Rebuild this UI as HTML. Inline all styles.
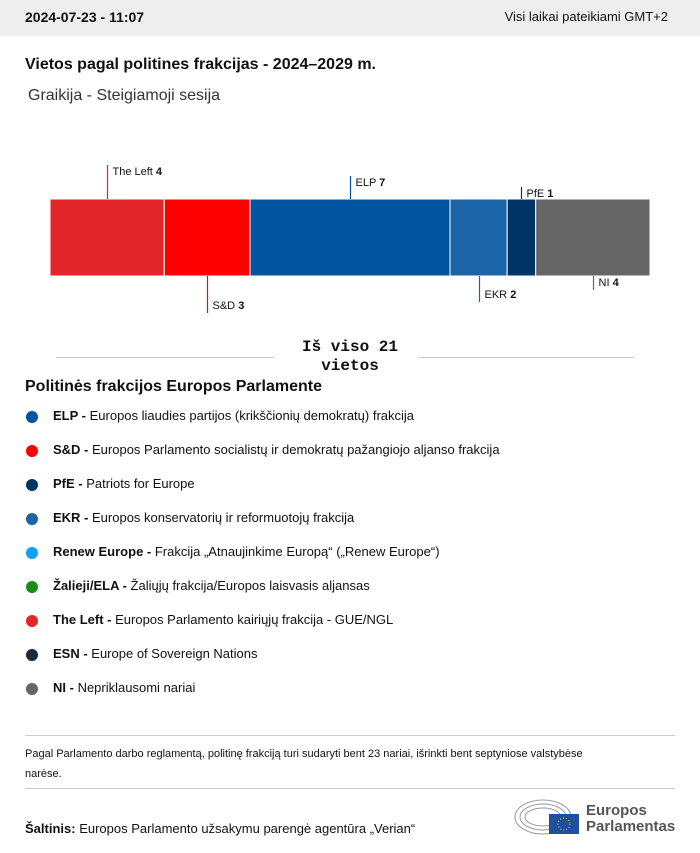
<!DOCTYPE html>
<html><head><meta charset="utf-8">
<style>
body{margin:0;width:700px;height:853px;background:#fff;font-family:"Liberation Sans",sans-serif;color:#111;position:relative;overflow:hidden}
.top{position:absolute;left:0;top:0;width:700px;height:36px;background:#eeeeee;font-size:14px}
.abs{position:absolute;white-space:nowrap}
.leg{position:absolute;left:26px;font-size:13px;white-space:nowrap}
.leg i{position:absolute;left:0;top:3px;width:12px;height:12px;border-radius:50%}
.leg span{position:absolute;left:27px;top:0}
.hr{position:absolute;height:1px;background:#ccc}
</style></head><body>
<div class="top">
<div class="abs" style="left:25px;top:9px;font-weight:bold">2024-07-23 - 11:07</div>
<div class="abs" style="right:32px;top:9px;font-size:13px">Visi laikai pateikiami GMT+2</div>
</div>
<div class="abs" style="left:25px;top:56px;font-size:16px;font-weight:bold">Vietos pagal politines frakcijas - 2024–2029 m.</div>
<div class="abs" style="left:28px;top:87px;font-size:16px;color:#333">Graikija - Steigiamoji sesija</div>
<svg id="chart" class="abs" style="left:0;top:140px" width="700" height="200"></svg>
<div class="hr" style="left:56px;top:357px;width:218px"></div>
<div class="hr" style="left:418px;top:357px;width:216px"></div>
<div class="abs" style="left:290px;top:338px;width:120px;text-align:center;font-family:'Liberation Mono',monospace;font-weight:bold;font-size:16px;line-height:19px;white-space:normal">Iš viso 21 vietos</div>
<div class="abs" style="left:25px;top:378px;font-size:16px;font-weight:bold">Politinės frakcijos Europos Parlamente</div>
<div id="legend"></div>
<div class="hr" style="left:25px;top:735px;width:650px"></div>
<div class="abs" style="left:25px;top:744px;font-size:11px;line-height:20px;white-space:normal;width:560px">Pagal Parlamento darbo reglamentą, politinę frakciją turi sudaryti bent 23 nariai, išrinkti bent septyniose valstybėse narėse.</div>
<div class="hr" style="left:25px;top:788px;width:650px"></div>
<div class="abs" style="left:25px;top:821px;font-size:13px"><b>Šaltinis:</b> Europos Parlamento užsakymu parengė agentūra „Verian“</div>
<svg class="abs" style="left:513px;top:797px" width="70" height="40">
<g fill="none" stroke="#999" stroke-width="1"><ellipse cx="30" cy="20" rx="28" ry="17"/><ellipse cx="30" cy="20" rx="23" ry="13"/><ellipse cx="30" cy="20" rx="18" ry="9"/></g>
<rect x="36" y="17" width="30" height="20" fill="#1f4fa0"/>
<circle cx="51" cy="27" r="6" fill="none" stroke="#ffd200" stroke-dasharray="1 2"/>
</svg>
<div class="abs" style="left:586px;top:803px;font-size:15px;font-weight:bold;color:#555;line-height:16px">Europos<br>Parlamentas</div>
<script>
const parties=["The Left","S&D","ELP","EKR","PfE","NI"];
const seats=[4,3,7,2,1,4];
const colors=["#e3262a","#ff0000","#0054a0","#1b64a7","#003466","#666666"];
const sides=["up","down","up","down","up","down"];
const lens=[34,37,23,26,12,14];
const svg=document.getElementById('chart');const NS="http://www.w3.org/2000/svg";
const total=seats.reduce((a,b)=>a+b,0);
const x0=50,x1=650,yT=59,yB=136;
const sx=v=>x0+(x1-x0)*v/total;
let acc=0;
seats.forEach((s,i)=>{
 const a=sx(acc),b=sx(acc+s);acc+=s;
 const r=document.createElementNS(NS,'rect');
 r.setAttribute('x',a);r.setAttribute('y',yT);r.setAttribute('width',b-a);r.setAttribute('height',yB-yT);
 r.setAttribute('fill',colors[i]);r.setAttribute('stroke','#fff');r.setAttribute('stroke-width','1');
 
 
 svg.appendChild(r);
 const cx=Math.round((a+b)/2)+0.5;
 const up=sides[i]==="up";
 const ya=up?yT-lens[i]:yB, yb=up?yT:yB+lens[i];
 const l=document.createElementNS(NS,'line');
 l.setAttribute('x1',cx);l.setAttribute('x2',cx);l.setAttribute('y1',ya);l.setAttribute('y2',yb);
 l.setAttribute('stroke',colors[i]);l.setAttribute('stroke-width','1.2');
 
 
 svg.appendChild(l);
 const t=document.createElementNS(NS,'text');
 t.setAttribute('x',cx+5);t.setAttribute('y',up?ya+10:yb-4);
 t.setAttribute('font-size','11');t.setAttribute('fill','#111');
 t.innerHTML=parties[i].replace('&','&amp;')+' <tspan font-weight="bold">'+s+'</tspan>';
 
 
 svg.appendChild(t);
});
const legAbbr=["ELP","S&D","PfE","EKR","Renew Europe","Žalieji/ELA","The Left","ESN","NI"];
const legDesc=["Europos liaudies partijos (krikščionių demokratų) frakcija","Europos Parlamento socialistų ir demokratų pažangiojo aljanso frakcija","Patriots for Europe","Europos konservatorių ir reformuotojų frakcija","Frakcija „Atnaujinkime Europą“ („Renew Europe“)","Žaliųjų frakcija/Europos laisvasis aljansas","Europos Parlamento kairiųjų frakcija - GUE/NGL","Europe of Sovereign Nations","Nepriklausomi nariai"];
const legCol=["#0054a0","#ff0000","#003466","#1b64a7","#0fa0f0","#1a8c1a","#e3262a","#1e2a3a","#666666"];
const lg=document.getElementById('legend');
legAbbr.forEach((a,i)=>{
 const d=document.createElement('div');d.className='leg';d.style.top=(408+i*34)+'px';
 d.innerHTML='<i style="background:'+legCol[i]+'"></i><span><b>'+a.replace('&','&amp;')+' -</b> '+legDesc[i]+'</span>';
 
 
 lg.appendChild(d);
});
</script>
</body></html>
